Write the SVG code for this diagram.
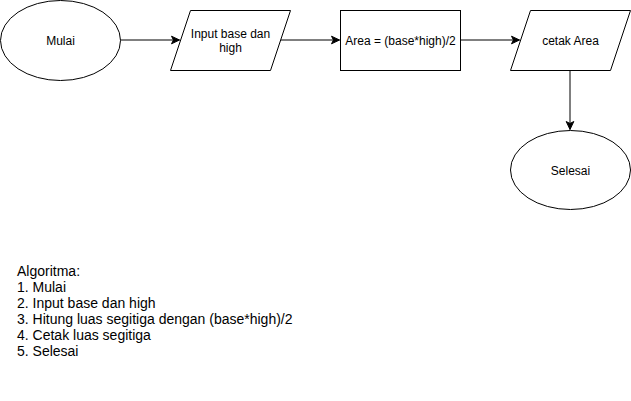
<svg xmlns="http://www.w3.org/2000/svg" width="631" height="401" viewBox="0 0 631 401">
  <style>
    .shape { fill: #ffffff; stroke: #000000; stroke-width: 1; }
    .lbl { font-family: "Liberation Sans", Arial, sans-serif; font-size: 12px; fill: #000000; text-anchor: middle; }
    .conn { fill: none; stroke: #000000; stroke-width: 1; }
    .algo { font-family: "Liberation Sans", Arial, sans-serif; font-size: 14px; fill: #000000; }
  </style>
  <defs>
    <marker id="arrow" markerUnits="userSpaceOnUse" markerWidth="10" markerHeight="10" viewBox="-9 -5 10 10" refX="0" refY="0" orient="auto">
      <path d="M0,0 L-8,-3.8 L-6,0 L-8,3.8 Z" fill="#000000" stroke="#000000" stroke-width="1"/>
    </marker>
  </defs>
  <rect width="631" height="401" fill="#ffffff"/>

  <g id="connectors">
    <line class="conn" x1="120" y1="40" x2="179.5" y2="40" marker-end="url(#arrow)"/>
    <line class="conn" x1="280" y1="40" x2="339.5" y2="40" marker-end="url(#arrow)"/>
    <line class="conn" x1="460" y1="40" x2="519.5" y2="40" marker-end="url(#arrow)"/>
    <line class="conn" x1="570" y1="70" x2="570" y2="129.5" marker-end="url(#arrow)"/>
  </g>

  <g id="node-mulai">
    <ellipse class="shape" cx="60.5" cy="40.5" rx="60" ry="40"/>
    <text class="lbl" x="60.5" y="44.5">Mulai</text>
  </g>

  <g id="node-input">
    <polygon class="shape" points="190.5,10.5 290.5,10.5 270.5,70.5 170.5,70.5"/>
    <text class="lbl" x="230.5" y="37.5">Input base dan</text>
    <text class="lbl" x="230.5" y="51.5">high</text>
  </g>

  <g id="node-area">
    <rect class="shape" x="340.5" y="10.5" width="120" height="60"/>
    <text class="lbl" x="400.5" y="44.5">Area = (base*high)/2</text>
  </g>

  <g id="node-cetak">
    <polygon class="shape" points="530.5,10.5 630.5,10.5 610.5,70.5 510.5,70.5"/>
    <text class="lbl" x="570.5" y="44.5">cetak Area</text>
  </g>

  <g id="node-selesai">
    <ellipse class="shape" cx="570.5" cy="170" rx="60" ry="39.5"/>
    <text class="lbl" x="570.5" y="174.5">Selesai</text>
  </g>

  <g id="algoritma">
    <text class="algo" x="17" y="276">Algoritma:</text>
    <text class="algo" x="17" y="292">1. Mulai</text>
    <text class="algo" x="17" y="308">2. Input base dan high</text>
    <text class="algo" x="17" y="324">3. Hitung luas segitiga dengan (base*high)/2</text>
    <text class="algo" x="17" y="339.5">4. Cetak luas segitiga</text>
    <text class="algo" x="17" y="355.5">5. Selesai</text>
  </g>
</svg>
